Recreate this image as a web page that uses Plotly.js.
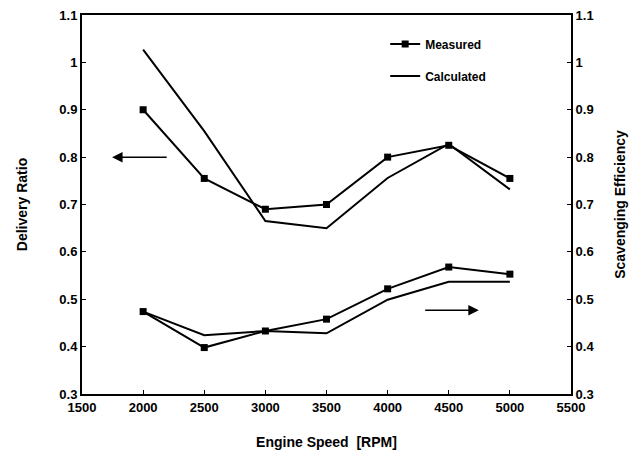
<!DOCTYPE html>
<html><head><meta charset="utf-8">
<script src="https://cdn.plot.ly/plotly-3.0.1.min.js"></script>
<style>body{margin:0;padding:0;background:#fff}#c{width:637px;height:461px}</style>
</head><body><div id="c"></div>
<script>
const rpm = [2000, 2500, 3000, 3500, 4000, 4500, 5000];
const deliveryMeasured = [0.90, 0.755, 0.69, 0.70, 0.80, 0.825, 0.755];
const deliveryCalculated = [1.027, 0.855, 0.665, 0.65, 0.756, 0.828, 0.732];
const scavMeasured = [0.474, 0.398, 0.433, 0.458, 0.522, 0.568, 0.553];
const scavCalculated = [0.474, 0.424, 0.433, 0.428, 0.499, 0.537, 0.537];
const yTicks = [0.3, 0.4, 0.5, 0.6, 0.7, 0.8, 0.9, 1, 1.1];
const xTicks = [1500, 2000, 2500, 3000, 3500, 4000, 4500, 5000, 5500];

const F = 'Liberation Sans, Arial, sans-serif';
const lineStyle = {color: '#000', width: 2};
const markerStyle = {symbol: 'square', size: 7, color: '#000'};

const traces = [
  {x: rpm, y: deliveryMeasured, mode: 'lines+markers', name: 'Measured', line: lineStyle, marker: markerStyle, legendgroup: 'm', showlegend: true},
  {x: rpm, y: deliveryCalculated, mode: 'lines', name: 'Calculated', line: lineStyle, legendgroup: 'c', showlegend: true},
  {x: rpm, y: scavMeasured, mode: 'lines+markers', name: 'Measured', line: lineStyle, marker: markerStyle, yaxis: 'y2', showlegend: false},
  {x: rpm, y: scavCalculated, mode: 'lines', name: 'Calculated', line: lineStyle, yaxis: 'y2', showlegend: false}
];

const axisCommon = {
  showgrid: false, zeroline: false, showline: true, linecolor: '#000', linewidth: 2,
  ticks: 'inside', ticklen: 4, tickcolor: '#000', tickwidth: 1,
  tickfont: {family: F, size: 13, color: '#000', weight: 'bold'}
};

const layout = {
  width: 637, height: 461,
  margin: {l: 82, r: 66, t: 15, b: 67},
  paper_bgcolor: '#fff', plot_bgcolor: '#fff',
  font: {family: F, color: '#000'},
  xaxis: Object.assign({}, axisCommon, {
    range: [1500, 5500], tickvals: xTicks, ticktext: xTicks.map(String), mirror: true,
    title: {text: 'Engine Speed  [RPM]', font: {family: F, size: 14, weight: 'bold'}, standoff: 24}
  }),
  yaxis: Object.assign({}, axisCommon, {
    range: [0.3, 1.1], tickvals: yTicks, ticktext: yTicks.map(String),
    title: {text: 'Delivery Ratio', font: {family: F, size: 14, weight: 'bold'}, standoff: 28}
  }),
  yaxis2: Object.assign({}, axisCommon, {
    range: [0.3, 1.1], tickvals: yTicks, ticktext: yTicks.map(String),
    overlaying: 'y', side: 'right',
    title: {text: 'Scavenging Efficiency', font: {family: F, size: 14, weight: 'bold'}, standoff: 22}
  }),
  legend: {
    x: 0.62, y: 0.962, xanchor: 'left', yanchor: 'top',
    bgcolor: 'rgba(0,0,0,0)', tracegroupgap: 13,
    font: {family: F, size: 12, weight: 'bold', color: '#000'}
  },
  annotations: [
    {x: 1746, y: 0.8, ax: 2205, ay: 0.8, xref: 'x', yref: 'y', axref: 'x', ayref: 'y',
     showarrow: true, arrowhead: 2, arrowsize: 1.4, arrowwidth: 1.5, arrowcolor: '#000', text: ''},
    {x: 4746, y: 0.477, ax: 4295, ay: 0.477, xref: 'x', yref: 'y', axref: 'x', ayref: 'y',
     showarrow: true, arrowhead: 2, arrowsize: 1.4, arrowwidth: 1.5, arrowcolor: '#000', text: ''}
  ]
};

Plotly.newPlot('c', traces, layout, {displayModeBar: false, staticPlot: true});
</script></body></html>
